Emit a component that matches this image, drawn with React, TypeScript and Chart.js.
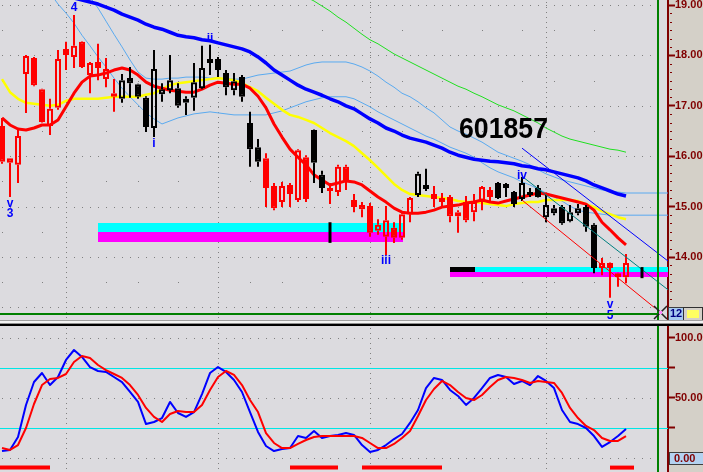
import React, { useEffect, useRef } from "react";
import { Chart, registerables } from "chart.js";
Chart.register(...registerables);

// ---------------- data ----------------
const stockCode = "601857";

const candleOpen = [16.60,15.96,15.83,17.63,17.95,17.33,16.60,16.96,18.13,17.97, 18.27,17.61,17.87,17.53,17.18,17.14,17.55,17.43,17.16,16.56, 17.23,17.31,17.35,17.06,17.16,17.35,17.93,17.93,17.65,17.31, 17.57,16.66,16.18,15.96,15.41,15.09,15.43,15.13,15.98,16.52, 15.63,15.31,15.29,15.79,15.13,15.03,15.01,14.52,14.40,14.58, 14.38,14.85,15.23,15.43,15.25,15.17,15.19,14.89,15.09,14.89, 15.09,15.33,15.47,15.37,15.29,15.15,15.29,15.37,14.79,14.97, 14.99,14.71,14.87,14.99,14.64,13.78,13.88,13.68,13.60];
const candleHigh = [16.76,15.96,16.52,18.01,17.97,17.34,17.14,18.11,18.27,18.80, 18.28,17.87,18.23,17.95,17.53,17.63,17.77,17.44,17.19,18.11, 17.45,18.01,17.45,17.19,17.85,18.19,18.21,17.97,17.71,17.65, 17.61,16.88,16.34,16.06,15.47,15.49,15.47,16.14,16.02,16.53, 15.71,15.47,15.83,15.83,15.25,15.09,15.07,14.75,15.01,14.69, 14.87,15.19,15.69,15.75,15.41,15.27,15.23,14.93,15.21,15.25, 15.41,15.39,15.49,15.47,15.31,15.59,15.37,15.43,15.23,15.03, 15.03,15.03,15.05,15.03,14.67,13.98,13.89,13.69,14.06];
const candleLow = [15.85,15.19,15.47,16.86,17.39,16.67,16.42,16.92,17.71,17.75, 17.75,17.25,17.51,17.37,16.88,17.06,17.16,17.14,16.48,16.38, 17.08,17.25,16.96,16.82,16.90,17.33,17.61,17.57,17.21,17.21, 17.08,15.79,15.79,14.99,14.93,14.99,14.99,15.09,15.09,15.47, 15.27,15.05,15.21,15.33,14.89,14.79,14.40,14.44,14.04,14.28, 14.34,14.69,15.19,15.31,14.99,14.99,14.69,14.48,14.69,14.71, 14.93,15.07,15.15,15.19,14.99,15.11,15.19,15.18,14.69,14.83, 14.64,14.69,14.83,14.50,13.68,13.64,13.19,13.41,13.48];
const candleClose = [15.89,15.87,16.40,17.99,17.41,16.68,16.94,17.93,18.01,18.19, 17.77,17.85,17.75,17.73,17.25,17.51,17.45,17.18,16.58,17.73, 17.33,17.51,17.00,17.14,17.47,17.75,17.85,17.71,17.37,17.49, 17.18,16.14,15.89,15.37,14.97,15.41,15.25,16.12,15.15,15.87, 15.37,15.37,15.79,15.51,14.99,14.95,14.48,14.64,14.73,14.38, 14.85,15.17,15.65,15.35,15.15,15.09,14.81,14.81,14.73,15.09, 15.39,15.19,15.17,15.45,15.05,15.47,15.23,15.19,15.03,14.87, 14.67,14.89,14.97,14.60,13.78,13.88,13.78,13.60,13.88];
const candleTone = [
  "r","r","r","r","r","r","r","r","r","r",
  "r","r","r","r","r","k","k","k","k","k",
  "k","k","k","k","k","k","k","k","k","k",
  "k","k","k","r","r","r","r","r","r","k",
  "k","r","r","r","r","r","r","r","r","r",
  "r","r","k","k","r","r","r","r","r","r",
  "r","r","k","k","k","k","k","k","k","k",
  "k","k","k","k","k","r","r","r","r"];

const maFast = [16.76,16.62,16.54,16.52,16.56,16.62,16.62,16.72,16.98,17.25, 17.47,17.59,17.61,17.65,17.71,17.75,17.71,17.61,17.47,17.39, 17.35,17.31,17.29,17.27,17.27,17.33,17.41,17.47,17.45,17.43, 17.43,17.35,17.19,16.96,16.64,16.38,16.14,15.98,15.83,15.63, 15.53,15.43,15.47,15.51,15.49,15.43,15.31,15.19,15.09,14.97, 14.89,14.87,14.87,14.89,14.93,14.99,15.01,15.03,15.07,15.09, 15.13,15.09,15.07,15.11,15.15,15.19,15.23,15.27,15.25,15.21, 15.17,15.13,15.09,15.05,14.93,14.69,14.54,14.38,14.24];
const maMid = [17.53,17.27,17.14,17.06,17.04,17.02,17.00,17.02,17.10,17.14, 17.14,17.14,17.14,17.16,17.18,17.18,17.18,17.18,17.22,17.25, 17.33,17.41,17.45,17.47,17.49,17.51,17.53,17.55,17.53,17.51, 17.45,17.37,17.29,17.16,17.04,16.92,16.82,16.78,16.72,16.66, 16.56,16.46,16.38,16.30,16.20,16.06,15.92,15.77,15.61,15.45, 15.33,15.25,15.23,15.21,15.19,15.17,15.15,15.11,15.09,15.09, 15.07,15.05,15.03,15.01,15.05,15.07,15.09,15.09,15.13,15.13, 15.13,15.13,15.11,15.05,14.99,14.91,14.85,14.79,14.75];
const maSlowStart = 8;
const maSlow = [19.20,19.14,19.10,19.06,19.02,18.96,18.90,18.82,18.76,18.70, 18.62,18.56,18.52,18.46,18.40,18.37,18.35,18.31,18.29,18.25, 18.21,18.17,18.13,18.07,17.97,17.85,17.71,17.61,17.51,17.41, 17.33,17.27,17.21,17.14,17.08,17.00,16.94,16.84,16.74,16.66, 16.56,16.50,16.42,16.36,16.32,16.28,16.22,16.16,16.08,16.02, 15.98,15.94,15.92,15.90,15.89,15.87,15.85,15.81,15.79,15.75, 15.73,15.69,15.65,15.61,15.57,15.51,15.43,15.37,15.31,15.25, 15.21];
const maLongStart = 38;
const maLong = [19.16,19.08,18.98,18.88,18.76,18.66,18.54,18.42,18.31,18.23, 18.13,18.03,17.95,17.87,17.79,17.71,17.63,17.55,17.47,17.39, 17.33,17.25,17.18,17.10,17.02,16.96,16.90,16.82,16.74,16.66, 16.56,16.48,16.40,16.34,16.30,16.26,16.22,16.18,16.14,16.12, 16.08];
const envUpperStart = 11;
const envUpper = [19.16,18.94,18.68,18.42,18.17,17.91,17.67,17.55,17.53,17.53,17.55, 17.55,17.57,17.57,17.57,17.55,17.55,17.53,17.53,17.53,17.57, 17.61,17.63,17.65,17.67,17.69,17.75,17.81,17.85,17.87,17.87, 17.87,17.87,17.83,17.77,17.69,17.59,17.47,17.37,17.25,17.18, 17.08,16.96,16.86,16.72,16.58,16.50,16.44,16.36,16.28,16.18, 16.08,16.02,15.96,15.90,15.83,15.73,15.65,15.59,15.53,15.49, 15.45,15.41,15.37,15.33,15.31,15.29,15.27];
const envLowerStart = 6;
const envLower = [19.24,19.02,18.84,18.64,18.40,18.19,17.97,17.77,17.55,17.35,17.18, 17.02,16.86,16.74,16.64,16.70,16.76,16.80,16.84,16.86,16.88, 16.86,16.84,16.82,16.82,16.82,16.82,16.82,16.86,16.90,16.96, 17.02,17.08,17.12,17.16,17.18,17.18,17.18,17.14,17.06,16.98, 16.88,16.80,16.72,16.64,16.56,16.48,16.40,16.34,16.26,16.18, 16.12,16.06,15.98,15.87,15.77,15.69,15.63,15.57,15.49,15.43, 15.35,15.27,15.19,15.11,15.01,14.93,14.89,14.87,14.85,14.83, 14.83,14.83];

const trendFromIdx = [65, 65.1, 65];
const trendFromPrice = [16.16, 15.59, 15.13];
const trendToIdx = [83.25, 83.25, 81.6];
const trendToPrice = [13.92, 13.35, 12.99];

const bandFromIdx = [12, 56];
const bandToIdx = [50.1, 83.25];
const bandTop = [14.67, 13.80];
const bandMid = [14.50, 13.70];
const bandBottom = [14.30, 13.60];
const bandDarkToIdx = [12, 59.1];

const markerIdx = [41, 80];
const markerHigh = [14.69, 13.80];
const markerLow = [14.28, 13.58];

const waveText = ["4", "ii", "i", "v", "3", "iii", "iv", "v", "5"];
const waveIdx = [9, 26, 19, 1, 1, 48, 65, 76, 76];
const wavePrice = [18.95, 18.34, 16.24, 15.06, 14.86, 13.92, 15.61, 13.05, 12.83];

const kLine = [5.8,6.7,17.5,44.2,63.3,70.8,60.8,67.5,81.7,90.0, 84.2,75.8,72.5,71.7,67.5,63.3,55.0,46.7,28.3,30.0, 33.3,46.7,37.5,34.2,38.3,53.3,70.8,75.8,71.7,65.0, 55.0,38.3,21.7,10.0,5.8,7.5,8.3,18.3,16.7,22.5, 16.7,18.3,19.2,20.8,19.2,10.8,5.0,6.7,10.8,15.8, 20.0,29.2,40.0,58.3,66.7,65.0,56.7,51.7,44.2,50.0, 58.3,66.7,69.2,67.5,61.7,64.2,60.8,68.3,64.2,58.3, 40.0,30.0,28.3,25.0,18.3,9.2,13.3,18.3,24.2];
const dLine = [8.3,6.7,10.8,25.0,45.0,60.8,65.8,66.7,70.0,80.0, 85.0,83.3,77.5,73.3,70.0,66.7,60.8,52.5,41.7,34.2, 30.0,36.7,39.2,38.3,38.3,44.2,56.7,67.5,72.5,69.2, 60.8,48.3,38.3,20.8,12.5,8.3,8.3,11.7,15.0,17.5, 18.3,18.3,18.3,18.3,18.3,16.7,12.5,8.3,8.3,11.7, 16.7,22.5,35.0,48.3,57.5,64.2,60.8,55.0,50.0,48.3, 52.5,59.2,65.0,67.5,66.7,65.0,62.5,64.2,63.3,62.5, 54.2,41.7,33.3,26.7,23.3,16.7,14.2,14.2,18.3];
const signalFromIdx = [-0.5, 36, 45, 76];
const signalToIdx = [6, 42, 55, 79];
const signalLevel = -8;
const oscLevels = [75, 25];

const priceTicks = [14, 15, 16, 17, 18, 19];
const oscTicks = [0, 25, 50, 75, 100];
const oscLabelled = [100, 50];
const monthIdx = [8, 27, 46, 68];
const weekIdx = [0, 5, 13, 17, 22, 31, 35, 40, 45, 50, 55, 60, 65, 69, 74];
const crossIdx = 82;
const crossPrice = 12.87;

// ---------------- styling ----------------
const X_MIN = -0.25, X_MAX = 83.25;
const P_MIN = 12.75, P_MAX = 19.1;
const O_MIN = -11.67, O_MAX = 110;
const FONT = '"Liberation Sans", Arial, sans-serif';
const PLOT_BG = "rgb(220,219,223)";
const AXIS_BG = "rgb(212,208,200)";
const MAROON = "#800000";
const DOT = "#808080";
const AXIS_W = 35;

const toneColor = (t: string) => (t === "r" ? "#ff0000" : "#000000");
const series = (start: number, arr: number[]) => arr.map((v, k) => ({ x: start + k, y: v }));
const extendRight = (pts: any[]) => [...pts, { x: X_MAX, y: pts[pts.length - 1].y }];

const lineDs = (data: any[], color: string, width: number, order: number) => ({
  type: "line", data, borderColor: color, borderWidth: width, pointRadius: 0, tension: 0,
  fill: false, order, borderJoinStyle: "round", borderCapStyle: "butt",
});
const barBase = { type: "bar", grouped: false, borderSkipped: false, inflateAmount: 0, categoryPercentage: 1, barPercentage: 1 };

function yAxis(min: number, max: number, ticks: number[], label: (v: number) => string) {
  return {
    type: "linear", position: "right", min, max,
    afterBuildTicks: (s: any) => { s.ticks = ticks.map((v) => ({ value: v })); },
    afterFit: (s: any) => { s.width = AXIS_W; s.paddingTop = 0; s.paddingBottom = 0; },
    grid: { drawOnChartArea: false, drawTicks: true, tickLength: 7, tickColor: MAROON, tickWidth: 2 },
    border: { display: true, color: MAROON, width: 2 },
    ticks: { color: MAROON, font: { family: FONT, size: 11, weight: "bold" }, padding: 0, autoSkip: false,
      callback: (v: any) => label(Number(v)) },
  };
}

function paintBg(chart: any) {
  const { ctx, chartArea: ca, width, height } = chart;
  ctx.save();
  ctx.fillStyle = AXIS_BG; ctx.fillRect(0, 0, width, height);
  ctx.fillStyle = PLOT_BG; ctx.fillRect(ca.left, ca.top, ca.right - ca.left, ca.bottom - ca.top);
  ctx.restore();
}

function dotRow(chart: any, value: number, idxs: number[]) {
  const { ctx } = chart; const xs = chart.scales.x, ys = chart.scales.y;
  const py = Math.round(ys.getPixelForValue(value));
  for (const i of idxs) ctx.fillRect(Math.round(xs.getPixelForValue(i)), py, 1, 1);
}
function monthLines(chart: any) {
  const { ctx, chartArea: ca } = chart; const xs = chart.scales.x;
  for (const m of monthIdx) {
    const x = Math.round(xs.getPixelForValue(m));
    for (let y = ca.top + 2; y < ca.bottom; y += 5) ctx.fillRect(x, y, 1, 1);
  }
}
const allIdx = Array.from({ length: crossIdx + 1 }, (_, i) => i);

const mainPlugin = {
  id: "mainDecor",
  beforeDraw: paintBg,
  beforeDatasetsDraw(chart: any) {
    const { ctx, chartArea: ca } = chart; const xs = chart.scales.x, ys = chart.scales.y;
    ctx.save();
    ctx.beginPath(); ctx.rect(ca.left, ca.top, ca.right - ca.left, ca.bottom - ca.top); ctx.clip();
    ctx.fillStyle = DOT;
    for (let v = 13; v <= 19; v++) dotRow(chart, v, allIdx);
    for (let v = 13.5; v < 19; v++) dotRow(chart, v, weekIdx);
    monthLines(chart);
    for (let b = 0; b < bandFromIdx.length; b++) {
      const x0 = Math.round(xs.getPixelForValue(bandFromIdx[b]));
      const x1 = Math.round(xs.getPixelForValue(bandToIdx[b]));
      const xd = Math.round(xs.getPixelForValue(bandDarkToIdx[b]));
      const yA = Math.round(ys.getPixelForValue(bandTop[b]));
      const yB = Math.round(ys.getPixelForValue(bandMid[b]));
      const yC = Math.round(ys.getPixelForValue(bandBottom[b]));
      ctx.fillStyle = "#00ffff"; ctx.fillRect(x0, yA, x1 - x0, yB - yA);
      ctx.fillStyle = "#ff00ff"; ctx.fillRect(x0, yB, x1 - x0, yC - yB);
      if (xd > x0) { ctx.fillStyle = "#000000"; ctx.fillRect(x0, yA, xd - x0, yB - yA); }
    }
    ctx.restore();
  },
  afterDatasetsDraw(chart: any) {
    const { ctx, chartArea: ca } = chart; const xs = chart.scales.x, ys = chart.scales.y;
    ctx.save();
    ctx.beginPath(); ctx.rect(ca.left, ca.top, ca.right - ca.left, ca.bottom - ca.top); ctx.clip();
    ctx.fillStyle = "#0000ff"; ctx.font = `bold 12px ${FONT}`; ctx.textAlign = "center"; ctx.textBaseline = "middle";
    waveText.forEach((t, k) => ctx.fillText(t, xs.getPixelForValue(waveIdx[k]), ys.getPixelForValue(wavePrice[k])));
    ctx.fillStyle = "#000000"; ctx.font = `bold 29px ${FONT}`; ctx.textAlign = "left"; ctx.textBaseline = "alphabetic";
    ctx.fillText(stockCode, 459, 138, 89);
    // crosshair
    const cx = Math.round(xs.getPixelForValue(crossIdx)), cy = Math.round(ys.getPixelForValue(crossPrice));
    ctx.strokeStyle = "#008000"; ctx.lineWidth = 2;
    ctx.beginPath(); ctx.moveTo(cx, ca.top); ctx.lineTo(cx, ca.bottom); ctx.stroke();
    ctx.beginPath(); ctx.moveTo(ca.left, cy); ctx.lineTo(cx, cy); ctx.stroke();
    ctx.strokeStyle = "#202020"; ctx.lineWidth = 1.5;
    ctx.beginPath(); ctx.moveTo(cx - 4, cy - 8); ctx.lineTo(cx + 9, cy + 5); ctx.moveTo(cx + 9, cy - 8); ctx.lineTo(cx - 4, cy + 5); ctx.stroke();
    ctx.fillStyle = "#ff80ff"; ctx.fillRect(cx + 1, cy - 3, 3, 3);
    ctx.restore();
  },
  afterDraw(chart: any) {
    const { ctx } = chart; const ys = chart.scales.y;
    ctx.save();
    ctx.fillStyle = MAROON;
    for (let v = 13; v < 19.1; v += 1 / 6) {
      const py = Math.round(ys.getPixelForValue(v));
      if (Math.abs(v - Math.round(v)) < 0.01) continue;
      ctx.fillRect(ys.left + 2, py, 2, 1);
    }
    const cy = Math.round(ys.getPixelForValue(crossPrice));
    ctx.fillStyle = "#a6caf0"; ctx.fillRect(ys.left, cy - 7, AXIS_W, 14);
    ctx.strokeStyle = "#404040"; ctx.lineWidth = 1; ctx.strokeRect(ys.left + 0.5, cy - 6.5, AXIS_W, 13);
    ctx.fillStyle = "#000080"; ctx.font = `bold 11px ${FONT}`; ctx.textBaseline = "middle"; ctx.textAlign = "left";
    ctx.fillText(crossPrice.toFixed(2), ys.left + 2, cy);
    ctx.fillStyle = AXIS_BG; ctx.fillRect(ys.left + 15, cy - 7, AXIS_W - 15, 14);
    ctx.strokeStyle = "#303030"; ctx.strokeRect(ys.left + 15.5, cy - 6.5, AXIS_W - 16, 13);
    ctx.fillStyle = "#ffff60"; ctx.fillRect(ys.left + 19, cy - 4, 12, 8);
    ctx.restore();
  },
};

const oscPlugin = {
  id: "oscDecor",
  beforeDraw: paintBg,
  beforeDatasetsDraw(chart: any) {
    const { ctx, chartArea: ca } = chart; const ys = chart.scales.y;
    ctx.save();
    ctx.beginPath(); ctx.rect(ca.left, ca.top, ca.right - ca.left, ca.bottom - ca.top); ctx.clip();
    ctx.fillStyle = DOT;
    for (const v of [100, 50, 0]) dotRow(chart, v, allIdx);
    monthLines(chart);
    ctx.fillStyle = "rgb(0,230,230)";
    for (const v of oscLevels) ctx.fillRect(ca.left, Math.round(ys.getPixelForValue(v)), ca.right - ca.left, 1);
    ctx.restore();
  },
  afterDatasetsDraw(chart: any) {
    const { ctx, chartArea: ca } = chart; const xs = chart.scales.x;
    const cx = Math.round(xs.getPixelForValue(crossIdx));
    ctx.save(); ctx.strokeStyle = "#008000"; ctx.lineWidth = 2;
    ctx.beginPath(); ctx.moveTo(cx, ca.top); ctx.lineTo(cx, ca.bottom); ctx.stroke(); ctx.restore();
  },
  afterDraw(chart: any) {
    const { ctx } = chart; const ys = chart.scales.y;
    const cy = Math.round(ys.getPixelForValue(0));
    ctx.save();
    ctx.fillStyle = "#b4d2f0"; ctx.fillRect(ys.left + 1, cy - 6, AXIS_W - 1, 13);
    ctx.strokeStyle = "#404040"; ctx.lineWidth = 1; ctx.strokeRect(ys.left + 1.5, cy - 5.5, AXIS_W - 1, 12);
    ctx.fillStyle = MAROON; ctx.font = `bold 11px ${FONT}`; ctx.textBaseline = "middle"; ctx.textAlign = "left";
    ctx.fillText((0).toFixed(2), ys.left + 6, cy + 1);
    ctx.restore();
  },
};

function mainConfig(): any {
  const idx = candleOpen.map((_, i) => i);
  const tone = idx.map((i) => toneColor(candleTone[i]));
  const bodyFill = idx.map((i) => (candleClose[i] < candleOpen[i] ? tone[i] : "rgba(0,0,0,0)"));
  const datasets: any[] = [
    lineDs(extendRight(series(envUpperStart, envUpper)), "#5aaaf0", 1, 9),
    lineDs(extendRight(series(envLowerStart, envLower)), "#5aaaf0", 1, 9),
    lineDs(series(maLongStart, maLong), "#20e020", 1, 8),
    lineDs(series(maSlowStart, maSlow), "#0000ff", 3.5, 7),
    lineDs(series(0, maMid), "#ffff00", 2.5, 6),
    lineDs(series(0, maFast), "#ff0000", 3, 5),
    { ...barBase, order: 4, barThickness: 2, backgroundColor: tone, borderWidth: 0,
      data: idx.map((i) => ({ x: i, y: [Math.max(candleOpen[i], candleClose[i]), candleHigh[i]] })) },
    { ...barBase, order: 4, barThickness: 2, backgroundColor: tone, borderWidth: 0,
      data: idx.map((i) => ({ x: i, y: [candleLow[i], Math.min(candleOpen[i], candleClose[i])] })) },
    { ...barBase, order: 3, barThickness: 6, backgroundColor: bodyFill, borderColor: tone, borderWidth: 2,
      data: idx.map((i) => ({ x: i, y: [Math.min(candleOpen[i], candleClose[i]), Math.max(candleOpen[i], candleClose[i])] })) },
    ...["#0000ff", "#008080", "#ff0000"].map((c, k) => lineDs([
      { x: trendFromIdx[k], y: trendFromPrice[k] }, { x: trendToIdx[k], y: trendToPrice[k] }], c, 1, 2)),
    { ...barBase, order: 1, barThickness: 3, backgroundColor: "#000000", borderWidth: 0,
      data: markerIdx.map((m, k) => ({ x: m, y: [markerLow[k], markerHigh[k]] })) },
  ];
  return {
    type: "line",
    data: { datasets },
    options: {
      animation: false, responsive: false, maintainAspectRatio: false, devicePixelRatio: 1, events: [],
      layout: { padding: 0 },
      plugins: { legend: { display: false }, tooltip: { enabled: false } },
      scales: {
        x: { type: "linear", min: X_MIN, max: X_MAX, offset: false, display: false },
        y: yAxis(P_MIN, P_MAX, priceTicks, (v) => v.toFixed(2)),
      },
    },
    plugins: [mainPlugin],
  };
}

function oscConfig(): any {
  const datasets: any[] = [
    lineDs(series(0, kLine), "#0000ff", 2, 3),
    lineDs(series(0, dLine), "#ff0000", 2, 2),
    ...signalFromIdx.map((s, k) => lineDs([{ x: s, y: signalLevel }, { x: signalToIdx[k], y: signalLevel }], "#ff0000", 4, 1)),
  ];
  return {
    type: "line",
    data: { datasets },
    options: {
      animation: false, responsive: false, maintainAspectRatio: false, devicePixelRatio: 1, events: [],
      layout: { padding: 0 },
      plugins: { legend: { display: false }, tooltip: { enabled: false } },
      scales: {
        x: { type: "linear", min: X_MIN, max: X_MAX, offset: false, display: false },
        y: yAxis(O_MIN, O_MAX, oscTicks, (v) => (oscLabelled.includes(v) ? v.toFixed(2) : "")),
      },
    },
    plugins: [oscPlugin],
  };
}

export default function App() {
  const mainRef = useRef<HTMLCanvasElement>(null);
  const oscRef = useRef<HTMLCanvasElement>(null);
  useEffect(() => {
    const a = new Chart(mainRef.current as HTMLCanvasElement, mainConfig());
    const b = new Chart(oscRef.current as HTMLCanvasElement, oscConfig());
    return () => { a.destroy(); b.destroy(); };
  }, []);
  const strip = (top: number, h: number, bg: string) => (
    <div style={{ position: "absolute", left: 0, top, width: 703, height: h, background: bg }} />
  );
  return (
    <div style={{ position: "absolute", left: 0, top: 0, width: 703, height: 472, overflow: "hidden", background: AXIS_BG }}>
      <canvas ref={mainRef} width={703} height={320} style={{ position: "absolute", left: 0, top: 0, width: 703, height: 320 }} />
      {strip(320, 1, "#a0a0a0")}
      {strip(321, 2, "#f4f4f4")}
      {strip(323, 1, "#909090")}
      {strip(324, 2, "#000000")}
      <canvas ref={oscRef} width={703} height={146} style={{ position: "absolute", left: 0, top: 326, width: 703, height: 146 }} />
    </div>
  );
}
